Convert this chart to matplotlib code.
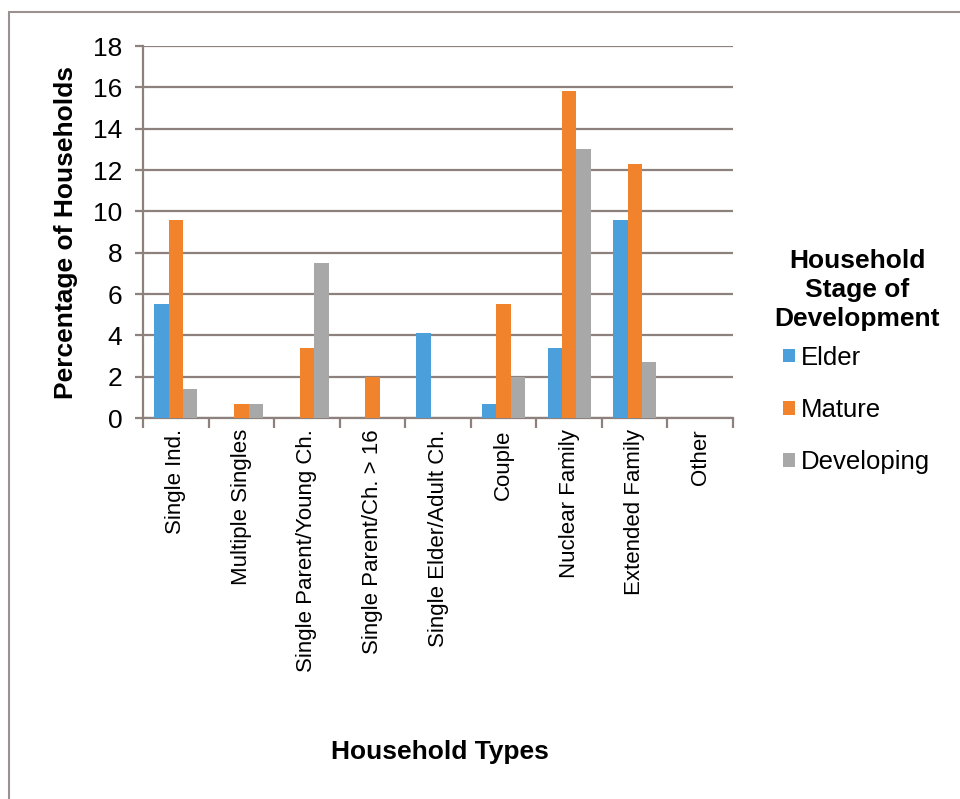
import numpy as np
import matplotlib
matplotlib.use("Agg")
import matplotlib.pyplot as plt
from matplotlib.patches import Rectangle

plt.rcParams['font.family'] = ['Liberation Sans', 'DejaVu Sans']

categories = ['Single Ind.', 'Multiple Singles', 'Single Parent/Young Ch.',
              'Single Parent/Ch. > 16', 'Single Elder/Adult Ch.', 'Couple',
              'Nuclear Family', 'Extended Family', 'Other']
elder = [5.5, 0, 0, 0, 4.1, 0.7, 3.4, 9.6, 0]
mature = [9.6, 0.7, 3.4, 2.0, 0, 5.5, 15.8, 12.3, 0]
developing = [1.4, 0.7, 7.5, 0, 0, 2.0, 13.0, 2.7, 0]
series_names = ['Elder', 'Mature', 'Developing']
colors = ['#4b9fdb', '#f0832b', '#a8a8a8']

grid_col = '#8c817c'

fig = plt.figure(figsize=(9.6, 7.99), dpi=100)
ax = fig.add_axes([0.149, 0.4768, 0.6146, 0.4656])

x = np.arange(len(categories))
w = 0.22
for i, (vals, name, c) in enumerate(zip([elder, mature, developing], series_names, colors)):
    ax.bar(x + (i - 1) * w, vals, width=w, color=c, label=name, zorder=3)

ax.set_xlim(-0.5, len(categories) - 0.5)
ax.set_ylim(0, 18)
ax.set_yticks(np.arange(0, 19, 2))
ax.yaxis.grid(True, color=grid_col, linewidth=1.6, zorder=1)
ax.set_axisbelow(True)

for s in ['top', 'right']:
    ax.spines[s].set_visible(False)
ax.spines['left'].set_color(grid_col)
ax.spines['bottom'].set_color(grid_col)
ax.spines['left'].set_linewidth(1.6)
ax.spines['bottom'].set_linewidth(1.6)

ax.set_xticks(x)
ax.set_xticklabels(categories, rotation=90, fontsize=16)
ax.tick_params(axis='x', length=0, pad=8)
ax.set_xticks(np.arange(-0.5, len(categories)), minor=True)
ax.tick_params(axis='x', which='minor', length=7, width=1.6, color=grid_col)
ax.tick_params(axis='y', length=6, width=1.6, color=grid_col, labelsize=19, pad=9)

ax.set_ylabel('Percentage of Households', fontsize=19, fontweight='bold')
ax.yaxis.set_label_coords(-0.11, 0.5)
fig.text(0.458, 0.059, 'Household Types', ha='center', va='center',
         fontsize=19, fontweight='bold')

# legend title drawn separately so it sits close to the entries
fig.text(0.893, 0.637, 'Household\nStage of\nDevelopment', ha='center', va='center',
         fontsize=19, fontweight='bold', linespacing=1.25, multialignment='center')
ax.legend(loc='center left', bbox_to_anchor=(0.816, 0.487), bbox_transform=fig.transFigure,
          frameon=False, borderpad=0, borderaxespad=0, fontsize=18.5,
          handlelength=0.45, handleheight=0.45, handletextpad=0.25, labelspacing=1.1)

# thin frame around the whole figure
fig.patches.append(Rectangle((0.009, -0.1), 1.1, 1.085, transform=fig.transFigure,
                             fill=False, edgecolor='#9a9290', linewidth=1.5))

fig.savefig('out.png', dpi=100)
